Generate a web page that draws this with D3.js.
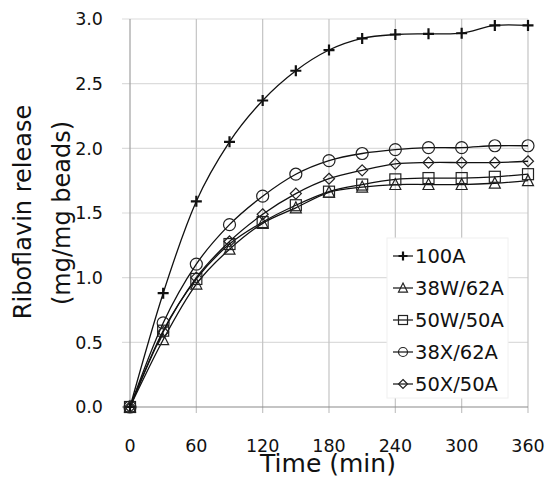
<!doctype html>
<html>
<head>
  <meta charset="utf-8">
  <title>Riboflavin release</title>
  <script src="https://cdnjs.cloudflare.com/ajax/libs/d3/7.8.5/d3.min.js"></script>
  <style>
  body { margin: 0; background: #fff; }
  text { font-family: "DejaVu Sans", sans-serif; fill: #111; }
  .line { fill: none; stroke: #111; stroke-width: 1.3px; }
  .mark { fill: none; stroke: #222; stroke-width: 1.2px; }
  </style>
</head>
<body>
  <script>
  // sampling times (min)
  var times = [0, 30, 60, 90, 120, 150, 180, 210, 240, 270, 300, 330, 360];
  var xTicks = [0, 60, 120, 180, 240, 300, 360];
  var yTicks = [0, 0.5, 1.0, 1.5, 2.0, 2.5, 3.0];

  var names = ["100A", "38W/62A", "50W/50A", "38X/62A", "50X/50A"];
  var symbols = ["plus", "triangle", "square", "circle", "diamond"];

  var s100A   = [0, 0.88, 1.59, 2.05, 2.37, 2.60, 2.76, 2.85, 2.88, 2.885, 2.89, 2.95, 2.95];
  var s38W62A = [0, 0.52, 0.95, 1.22, 1.42, 1.54, 1.66, 1.70, 1.72, 1.72, 1.72, 1.73, 1.75];
  var s50W50A = [0, 0.59, 0.99, 1.26, 1.43, 1.56, 1.665, 1.72, 1.76, 1.77, 1.77, 1.78, 1.80];
  var s38X62A = [0, 0.65, 1.105, 1.41, 1.63, 1.80, 1.905, 1.96, 1.99, 2.005, 2.005, 2.02, 2.02];
  var s50X50A = [0, 0.58, 1.00, 1.28, 1.49, 1.65, 1.765, 1.83, 1.88, 1.89, 1.89, 1.89, 1.90];

  var series = [s100A, s38W62A, s50W50A, s38X62A, s50X50A];

  var margin = {top: 19, right: 21, bottom: 72, left: 130},
    width = 549 - margin.left - margin.right,
    height = 479 - margin.top - margin.bottom;

  var svg = d3.select("body").append("svg")
      .attr("width", 549)
      .attr("height", 479);
  var g = svg.append("g")
      .attr("transform", "translate(" + margin.left + "," + margin.top + ")");

  var x = d3.scaleLinear().domain([0, 360]).range([0, width]);
  var y = d3.scaleLinear().domain([0, 3]).range([height, 0]);

  // grid
  g.append("g").selectAll("line").data(yTicks.slice(1)).join("line")
    .attr("x1", -8).attr("x2", width)
    .attr("y1", d => y(d)).attr("y2", d => y(d))
    .attr("stroke", "#dcdcdc").attr("stroke-width", 1.2);
  g.append("g").selectAll("line").data(xTicks).join("line")
    .attr("x1", d => x(d)).attr("x2", d => x(d))
    .attr("y1", 0).attr("y2", height + 6)
    .attr("stroke", d => d === 0 ? "#a0a0a0" : "#c4c4c4").attr("stroke-width", 1.2);
  g.append("line")
    .attr("x1", -8).attr("x2", width)
    .attr("y1", height).attr("y2", height)
    .attr("stroke", "#8a8a8a").attr("stroke-width", 1.2);

  // tick labels
  g.append("g").selectAll("text").data(yTicks).join("text")
    .attr("x", -27).attr("y", d => y(d)).attr("dy", "0.36em")
    .attr("text-anchor", "end").style("font-size", "17.5px")
    .text(d => d.toFixed(1));
  g.append("g").selectAll("text").data(xTicks).join("text")
    .attr("x", d => x(d)).attr("y", height + 45)
    .attr("text-anchor", "middle").style("font-size", "17.5px")
    .text(d => d);

  // axis titles
  svg.append("text")
    .attr("transform", "translate(31,212) rotate(-90)")
    .attr("text-anchor", "middle").style("font-size", "24px")
    .text("Riboflavin release");
  svg.append("text")
    .attr("transform", "translate(70,213) rotate(-90)")
    .attr("text-anchor", "middle").style("font-size", "24px")
    .text("(mg/mg beads)");
  svg.append("text")
    .attr("x", 328).attr("y", 472)
    .attr("text-anchor", "middle").style("font-size", "25px")
    .text("Time (min)");

  function marker(sel, type, s) {
    if (type === "plus") {
      sel.append("path").attr("class", "mark")
        .attr("d", "M" + (-s) + ",0H" + s + "M0," + (-s) + "V" + s)
        .style("stroke", "#111").style("stroke-width", 2.2);
    } else if (type === "circle") {
      sel.append("circle").attr("class", "mark").attr("r", s);
    } else if (type === "square") {
      sel.append("rect").attr("class", "mark")
        .attr("x", -s).attr("y", -s).attr("width", 2 * s).attr("height", 2 * s);
    } else if (type === "triangle") {
      sel.append("path").attr("class", "mark")
        .attr("d", "M0," + (-s * 1.1) + "L" + s + "," + s * 0.9 + "L" + (-s) + "," + s * 0.9 + "Z");
    } else {
      sel.append("path").attr("class", "mark")
        .attr("d", "M0," + (-s) + "L" + s + ",0L0," + s + "L" + (-s) + ",0Z");
    }
  }

  var line = d3.line()
      .x((d, i) => x(times[i]))
      .y(d => y(d))
      .curve(d3.curveCardinal.tension(0));

  series.forEach(function(vals, k) {
    g.append("path").datum(vals).attr("class", "line").attr("d", line);
    vals.forEach(function(v, i) {
      var m = g.append("g").attr("transform", "translate(" + x(times[i]) + "," + y(v) + ")");
      marker(m, symbols[k], symbols[k] === "circle" ? 6 : 5.5);
    });
  });

  // legend
  var lg = svg.append("g");
  lg.append("rect")
    .attr("x", 387).attr("y", 238).attr("width", 121).attr("height", 160)
    .attr("fill", "#fff").attr("stroke", "#f0f0f0");
  names.forEach(function(n, k) {
    var yy = 263 + k * 32;
    lg.append("line")
      .attr("x1", 393).attr("x2", 413).attr("y1", yy - 7).attr("y2", yy - 7)
      .attr("stroke", "#111").attr("stroke-width", 1.2);
    var m = lg.append("g").attr("transform", "translate(403," + (yy - 7) + ")");
    marker(m, symbols[k], 4.5);
    lg.append("text").attr("x", 415).attr("y", yy)
      .style("font-size", "19.5px").text(n);
  });
  </script>
</body>
</html>
